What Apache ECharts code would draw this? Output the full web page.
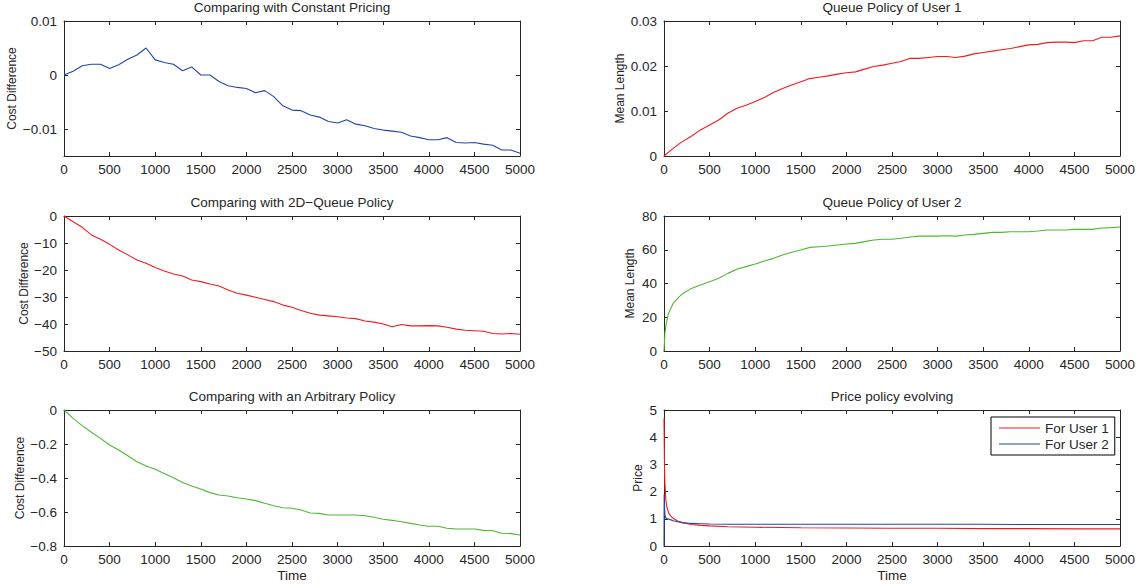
<!DOCTYPE html>
<html>
<head>
<meta charset="utf-8">
<title>Pricing policy simulation</title>
<script src="https://cdn.jsdelivr.net/npm/echarts@6/dist/echarts.min.js"></script>
<style>
  html, body { margin: 0; padding: 0; background: #fff; }
  #chart { width: 1146px; height: 588px; }
</style>
</head>
<body>
<div id="chart"></div>
<script>
// Simulation time steps shared by the sampled series
const timeSteps = [0, 100, 200, 300, 400, 500, 600, 700, 800, 900, 1000,
  1100, 1200, 1300, 1400, 1500, 1600, 1700, 1800, 1900, 2000,
  2100, 2200, 2300, 2400, 2500, 2600, 2700, 2800, 2900, 3000,
  3100, 3200, 3300, 3400, 3500, 3600, 3700, 3800, 3900, 4000,
  4100, 4200, 4300, 4400, 4500, 4600, 4700, 4800, 4900, 5000];

// Cost difference against constant pricing
const constPricingDiff = [0, 0.0007, 0.0017, 0.002, 0.002, 0.0012, 0.0019, 0.0029, 0.0037, 0.005, 0.0028,
  0.0023, 0.002, 0.0008, 0.0015, 0.0, 0.0, -0.0012, -0.002, -0.0023, -0.0025,
  -0.0033, -0.0029, -0.004, -0.0057, -0.0065, -0.0066, -0.0074, -0.0078, -0.0086, -0.0089,
  -0.0083, -0.0091, -0.0094, -0.0099, -0.0102, -0.0104, -0.0106, -0.0113, -0.0116, -0.012,
  -0.012, -0.0116, -0.0125, -0.0126, -0.0125, -0.0128, -0.013, -0.0139, -0.0139, -0.0145];

// Cost difference against the 2D-queue policy
const queue2DDiff = [0, -2.1, -4.2, -7.0, -8.6, -10.5, -12.6, -14.4, -16.3, -17.5, -19.1,
  -20.4, -21.5, -22.2, -23.7, -24.3, -25.2, -25.9, -27.4, -28.6, -29.3,
  -30.1, -30.9, -31.7, -33.0, -33.8, -35.0, -36.0, -36.7, -37.0, -37.3,
  -37.8, -38.0, -38.9, -39.3, -40.0, -41.0, -40.2, -40.7, -40.7, -40.6,
  -40.7, -41.2, -41.9, -42.3, -42.5, -42.7, -43.5, -43.7, -43.5, -43.8];

// Cost difference against an arbitrary policy
const arbitraryDiff = [0, -0.049, -0.092, -0.131, -0.167, -0.206, -0.235, -0.269, -0.304, -0.329, -0.349,
  -0.373, -0.398, -0.427, -0.447, -0.465, -0.486, -0.5, -0.506, -0.516, -0.524,
  -0.533, -0.549, -0.563, -0.575, -0.578, -0.588, -0.606, -0.608, -0.618, -0.618,
  -0.618, -0.618, -0.622, -0.631, -0.643, -0.649, -0.657, -0.667, -0.676, -0.684,
  -0.684, -0.696, -0.7, -0.7, -0.7, -0.708, -0.71, -0.725, -0.727, -0.735];

// Mean queue length of user 1
const queueUser1 = [0, 0.0017, 0.0032, 0.0044, 0.0058, 0.0069, 0.008, 0.0095, 0.0106, 0.0113, 0.0121,
  0.013, 0.0141, 0.015, 0.0158, 0.0165, 0.0172, 0.0175, 0.0178, 0.0182, 0.0185,
  0.0187, 0.0193, 0.0199, 0.0202, 0.0206, 0.021, 0.0217, 0.0217, 0.0219, 0.0221,
  0.0221, 0.0219, 0.0222, 0.0227, 0.023, 0.0233, 0.0236, 0.0239, 0.0243, 0.0247,
  0.0248, 0.0252, 0.0253, 0.0253, 0.0252, 0.0256, 0.0256, 0.0264, 0.0264, 0.0267];

// Mean queue length of user 2 (extra early samples for the steep start)
const queueUser2Times = [0, 10, 25, 50, 100, 150, 200, 300, 400, 500, 600, 700, 800, 900, 1000,
  1100, 1200, 1300, 1400, 1500, 1600, 1700, 1800, 1900, 2000,
  2100, 2200, 2300, 2400, 2500, 2600, 2700, 2800, 2900, 3000,
  3100, 3200, 3300, 3400, 3500, 3600, 3700, 3800, 3900, 4000,
  4100, 4200, 4300, 4400, 4500, 4600, 4700, 4800, 4900, 5000];
const queueUser2 = [0, 10.5, 16.4, 22.3, 28.2, 31.2, 33.8, 37.1, 39.1, 41.1, 43.1, 46.0, 48.4, 50.0, 51.6,
  53.3, 54.9, 56.9, 58.5, 59.9, 61.4, 61.8, 62.2, 62.8, 63.4,
  63.8, 64.8, 65.8, 66.2, 66.2, 66.8, 67.6, 68.1, 68.1, 68.1,
  68.3, 68.1, 68.7, 69.1, 69.7, 70.3, 70.3, 70.7, 70.7, 70.7,
  71.1, 71.7, 71.7, 71.7, 72.1, 72.1, 72.1, 72.9, 73.1, 73.5];

// Price policy of both users
const priceTimes = [0, 2, 5, 10, 20, 30, 50, 75, 100, 150, 200, 300, 400, 500, 700,
  1000, 1500, 2000, 2500, 3000, 3500, 4000, 4500, 5000];
const priceUser1 = [4.7, 4.0, 3.0, 2.3, 1.7, 1.45, 1.22, 1.1, 1.02, 0.92, 0.86, 0.79, 0.76, 0.74, 0.71,
  0.69, 0.67, 0.66, 0.65, 0.65, 0.64, 0.64, 0.63, 0.63];
const priceUser2 = [0, 1.9, 1.5, 1.15, 1.03, 1.01, 0.99, 0.96, 0.93, 0.89, 0.86, 0.83, 0.82, 0.81, 0.8,
  0.8, 0.8, 0.8, 0.8, 0.8, 0.8, 0.79, 0.79, 0.79];

const titles = ['Comparing with Constant Pricing', 'Queue Policy of User 1',
  'Comparing with 2D\u2212Queue Policy', 'Queue Policy of User 2',
  'Comparing with an Arbitrary Policy', 'Price policy evolving'];
const legendNames = ['For User 1', 'For User 2'];

const FONT = '"Liberation Sans", Arial, Helvetica, sans-serif';
const INK = '#262626';
const RED = '#f21b1b';
const BLUE = '#2347a8';
const GREEN = '#4fb733';

// Panel layout: two columns, three rows
const colLeft = [64, 664];
const rowTop = [21, 216, 410];
const panelW = 456;
const panelH = 135;

function pairs(xs, ys) { return xs.map((x, i) => [x, ys[i]]); }
function fmt(v) { return String(+(+v).toFixed(6)).replace('-', '\u2212'); }

const grids = [];
const xAxes = [];
const yAxes = [];
const titleList = [];

// y-axis setup for each panel (row-major: left, right)
const yCfg = [
  { min: -0.015, max: 0.01, ticks: [-0.01, 0, 0.01], name: 'Cost Difference', gap: 46 },
  { min: 0, max: 0.03, interval: 0.01, name: 'Mean Length', gap: 38 },
  { min: -50, max: 0, interval: 10, name: 'Cost Difference', gap: 33 },
  { min: 0, max: 80, interval: 20, name: 'Mean Length', gap: 28 },
  { min: -0.8, max: 0, interval: 0.2, name: 'Cost Difference', gap: 38 },
  { min: 0, max: 5, interval: 1, name: 'Price', gap: 20 }
];

for (let i = 0; i < 6; i++) {
  const r = Math.floor(i / 2), c = i % 2;
  const left = colLeft[c], top = rowTop[r];
  const h = r === 2 ? panelH + 1 : panelH;
  grids.push({ left: left, top: top, width: panelW, height: h, containLabel: false, show: false });

  const tick = { inside: true, length: 4, lineStyle: { color: INK, width: 1 } };
  const line = { show: true, onZero: false, lineStyle: { color: INK, width: 1 } };
  const lab = { color: INK, fontSize: 13.5, fontFamily: FONT };

  xAxes.push({
    type: 'value', gridIndex: i, position: 'bottom', min: 0, max: 5000, interval: 500,
    axisLine: line, axisTick: tick, splitLine: { show: false },
    axisLabel: Object.assign({ margin: 6, formatter: fmt }, lab),
    name: r === 2 ? 'Time' : '', nameLocation: 'middle', nameGap: 22,
    nameTextStyle: { color: INK, fontSize: 13.5, fontFamily: FONT }
  });
  xAxes.push({
    type: 'value', gridIndex: i, position: 'top', min: 0, max: 5000, interval: 500,
    axisLine: line, axisTick: tick, splitLine: { show: false }, axisLabel: { show: false }
  });

  const y = yCfg[i];
  const yBase = { type: 'value', gridIndex: i, min: y.min, max: y.max, splitLine: { show: false }, axisLine: line };
  let yTick = tick, yLab = Object.assign({ margin: 7, formatter: fmt }, lab);
  if (y.ticks) {
    yTick = Object.assign({ customValues: y.ticks }, tick);
    yLab = Object.assign({ customValues: y.ticks }, yLab);
  } else {
    yBase.interval = y.interval;
  }
  yAxes.push(Object.assign({}, yBase, {
    position: 'left', axisTick: yTick, axisLabel: yLab,
    name: y.name, nameLocation: 'middle', nameGap: y.gap, nameRotate: 90,
    nameTextStyle: { color: INK, fontSize: 12, fontFamily: FONT }
  }));
  yAxes.push(Object.assign({}, yBase, {
    position: 'right', axisTick: yTick, axisLabel: { show: false }
  }));

  titleList.push({
    text: titles[i], left: left + panelW / 2, top: top - 21, textAlign: 'center', padding: 0,
    textStyle: { color: INK, fontSize: 13.5, fontWeight: 'normal', fontFamily: FONT }
  });
}

function lineSeries(panel, name, data, color) {
  return {
    type: 'line', name: name, xAxisIndex: panel * 2, yAxisIndex: panel * 2,
    data: data, symbol: 'none', showSymbol: false, smooth: false, animation: false,
    lineStyle: { color: color, width: 1.1 }, itemStyle: { color: color }
  };
}

const series = [
  lineSeries(0, 'constPricing', pairs(timeSteps, constPricingDiff), BLUE),
  lineSeries(1, 'queueUser1', pairs(timeSteps, queueUser1), RED),
  lineSeries(2, 'queue2D', pairs(timeSteps, queue2DDiff), RED),
  lineSeries(3, 'queueUser2', pairs(queueUser2Times, queueUser2), GREEN),
  lineSeries(4, 'arbitrary', pairs(timeSteps, arbitraryDiff), GREEN),
  lineSeries(5, legendNames[0], pairs(priceTimes, priceUser1), RED),
  lineSeries(5, legendNames[1], pairs(priceTimes, priceUser2), BLUE)
];

const chart = echarts.init(document.getElementById('chart'), null, { renderer: 'svg' });
chart.setOption({
  animation: false,
  backgroundColor: '#ffffff',
  title: titleList,
  grid: grids,
  xAxis: xAxes,
  yAxis: yAxes,
  legend: {
    data: legendNames, orient: 'vertical', left: 991, top: 417,
    padding: [4, 6, 4, 8], icon: 'rect', itemWidth: 41, itemHeight: 1.2, itemGap: 2,
    borderColor: '#000', borderWidth: 1, backgroundColor: '#fff',
    selectedMode: false,
    textStyle: { color: INK, fontSize: 13.5, fontFamily: FONT }
  },
  series: series
});
</script>
</body>
</html>
